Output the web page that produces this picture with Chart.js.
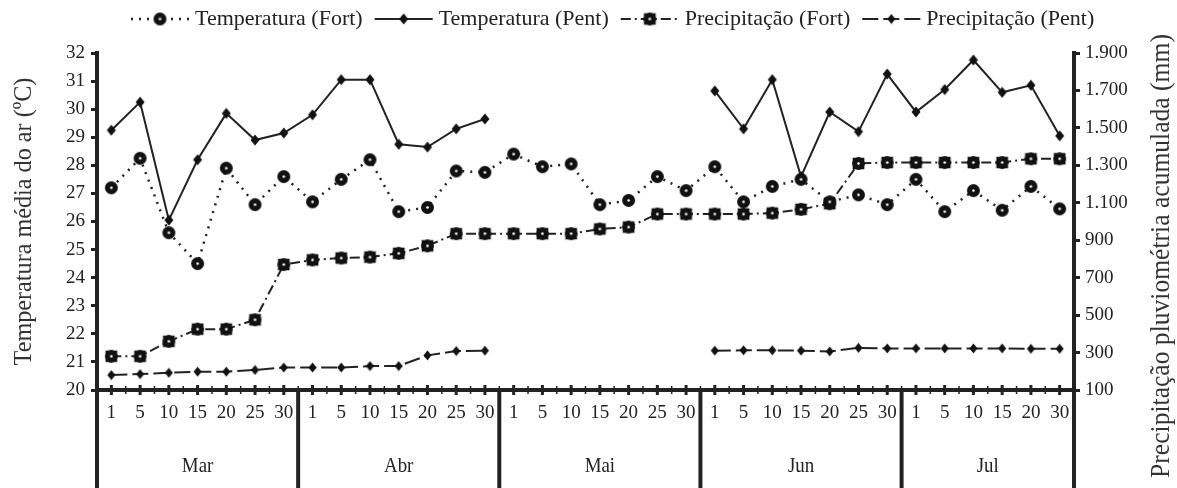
<!DOCTYPE html>
<html>
<head>
<meta charset="utf-8">
<script src="https://cdn.jsdelivr.net/npm/chart.js@4.4.1/dist/chart.umd.min.js"></script>
<style>
html, body { margin: 0; padding: 0; background: #fff; }
#wrap { width: 1177px; height: 488px; }
</style>
</head>
<body>
<div id="wrap"><canvas id="chart" width="1177" height="488"></canvas></div>
<script>
// categories
var months = ["Mar", "Abr", "Mai", "Jun", "Jul"];
var days = [
    [1, 5, 10, 15, 20, 25, 30],
    [1, 5, 10, 15, 20, 25, 30],
    [1, 5, 10, 15, 20, 25, 30],
    [1, 5, 10, 15, 20, 25, 30],
    [1, 5, 10, 15, 20, 30]
];

// series (ºC and mm), one value per day label
var tempFort = [27.2, 28.25, 25.6, 24.5, 27.9, 26.6, 27.6,
    26.7, 27.5, 28.2, 26.35, 26.5, 27.8, 27.75,
    28.4, 27.95, 28.05, 26.6, 26.75, 27.6, 27.1,
    27.95, 26.7, 27.25, 27.5, 26.7, 26.95, 26.6,
    27.5, 26.35, 27.1, 26.4, 27.25, 26.45];
var tempPent = [29.25, 30.25, 26.05, 28.2, 29.85, 28.9, 29.15,
    29.8, 31.05, 31.05, 28.75, 28.65, 29.3, 29.65,
    null, null, null, null, null, null, null,
    30.65, 29.3, 31.05, 27.6, 29.9, 29.2, 31.25,
    29.9, 30.7, 31.75, 30.6, 30.85, 29.05];
var precFort = [280, 280, 360, 425, 425, 475, 770,
    795, 805, 810, 830, 870, 935, 935,
    935, 935, 935, 960, 970, 1040, 1040,
    1040, 1040, 1045, 1065, 1095, 1310, 1315,
    1315, 1315, 1315, 1315, 1335, 1335];
var precPent = [180, 185, 192, 198, 198, 207, 220,
    220, 220, 228, 228, 285, 308, 310,
    null, null, null, null, null, null, null,
    310, 312, 312, 310, 306, 325, 322,
    322, 322, 322, 322, 320, 320];

// axis ticks
var tempMin = 20, tempMax = 32, tempStep = 1;
var precMin = 100, precMax = 1900, precStep = 200;

var dayLabels = [].concat(...days).map(String);
var serif = '"Liberation Serif", "Times New Roman", serif';
var ink = '#222';

function marker(kind, r, dot) {
    var c = document.createElement('canvas');
    var s = Math.ceil(r * 2 + 2);
    c.width = c.height = s;
    var g = c.getContext('2d'), m = s / 2;
    g.fillStyle = '#111';
    g.beginPath();
    if (kind === 'circle') {
        g.arc(m, m, r, 0, Math.PI * 2);
    } else if (kind === 'square') {
        g.rect(m - r * 0.9, m - r * 0.9, r * 1.8, r * 1.8);
        g.moveTo(m + r, m);
        g.arc(m, m, r, 0, Math.PI * 2);
    } else {
        g.moveTo(m, m - r * 1.1);
        g.lineTo(m + r * 0.9, m);
        g.lineTo(m, m + r * 1.1);
        g.lineTo(m - r * 0.9, m);
        g.closePath();
    }
    g.fill();
    if (dot) {
        g.fillStyle = '#fff';
        g.beginPath();
        g.arc(m, m, 1.3, 0, Math.PI * 2);
        g.fill();
    }
    return c;
}

var mkTempFort = marker('circle', 6.5, true);
var mkTempPent = marker('diamond', 5, false);
var mkPrecFort = marker('square', 6.5, true);
var mkPrecPent = marker('diamond', 4.5, false);

var series = [
    { label: "Temperatura (Fort)", data: tempFort, axis: 'y', dash: [2, 6], width: 2.5, mk: mkTempFort },
    { label: "Temperatura (Pent)", data: tempPent, axis: 'y', dash: [], width: 2, mk: mkTempPent },
    { label: "Precipitação (Fort)", data: precFort, axis: 'y1', dash: [10, 4, 2, 4], width: 2, mk: mkPrecFort },
    { label: "Precipitação (Pent)", data: precPent, axis: 'y1', dash: [16, 5], width: 2, mk: mkPrecPent }
];

function line(ctx, x1, y1, x2, y2) {
    ctx.beginPath();
    ctx.moveTo(x1, y1);
    ctx.lineTo(x2, y2);
    ctx.stroke();
}

// text a little narrower than the font, like the original figure
function narrowText(ctx, text, x, y, rot, sx) {
    ctx.save();
    ctx.translate(x, y);
    if (rot) ctx.rotate(rot);
    ctx.scale(sx, 1);
    ctx.fillText(text, 0, 0);
    ctx.restore();
}

const decor = {
    id: 'decor',
    afterDraw(chart) {
        const ctx = chart.ctx, x = chart.scales.x, area = chart.chartArea;
        const step = x.getPixelForValue(1) - x.getPixelForValue(0);
        ctx.save();
        ctx.strokeStyle = ink;

        // little ticks across the x axis
        dayLabels.forEach((d, i) => {
            const cx = x.getPixelForValue(i);
            ctx.lineWidth = 3;
            line(ctx, cx, area.bottom - 5, cx, area.bottom + 5);
            ctx.lineWidth = 1.5;
            line(ctx, cx + step / 2, area.bottom - 4, cx + step / 2, area.bottom + 4);
        });

        // month separators and names
        let idx = 0;
        const bounds = [x.getPixelForValue(0) - step / 2];
        days.forEach(d => {
            idx += d.length;
            bounds.push(x.getPixelForValue(idx - 1) + step / 2);
        });
        ctx.lineWidth = 4;
        bounds.forEach(b => line(ctx, b, area.bottom, b, chart.height));
        ctx.fillStyle = ink;
        ctx.font = '21px ' + serif;
        ctx.textAlign = 'center';
        ctx.textBaseline = 'middle';
        months.forEach((m, k) => narrowText(ctx, m, (bounds[k] + bounds[k + 1]) / 2, 466, 0, 0.9));

        // axis titles
        ctx.fillStyle = '#333';
        ctx.font = '26px ' + serif;
        narrowText(ctx, "Temperatura média do ar (ºC)", 24, (area.top + area.bottom) / 2, -Math.PI / 2, 0.93);
        ctx.font = '27.5px ' + serif;
        narrowText(ctx, "Precipitação pluviométria acumulada (mm)", 1162, 256, -Math.PI / 2, 0.93);

        // legend
        ctx.font = '22px ' + serif;
        ctx.textAlign = 'left';
        ctx.fillStyle = ink;
        let lx = 131;
        const ly = 19;
        series.forEach(s => {
            ctx.lineWidth = s.width;
            ctx.setLineDash(s.dash);
            line(ctx, lx, ly, lx + 58, ly);
            ctx.setLineDash([]);
            ctx.drawImage(s.mk, lx + 29 - s.mk.width / 2, ly - s.mk.height / 2);
            lx += 64;
            ctx.fillText(s.label, lx, ly);
            lx += ctx.measureText(s.label).width + 12;
        });
        ctx.restore();
    }
};

const data = {
    labels: dayLabels,
    datasets: series.map(s => ({
        label: s.label,
        data: s.data,
        yAxisID: s.axis,
        borderColor: ink,
        borderWidth: s.width,
        borderDash: s.dash,
        pointStyle: s.mk,
        pointRadius: 6,
        pointBackgroundColor: '#111',
        pointBorderColor: '#111',
        fill: false,
        tension: 0,
        spanGaps: false
    }))
};

const tickFont = { family: serif, size: 19 };

const config = {
    type: 'line',
    data: data,
    options: {
        responsive: false,
        animation: false,
        devicePixelRatio: 1,
        layout: { padding: { top: 53, left: 0, right: 0, bottom: 0 } },
        plugins: { legend: { display: false }, tooltip: { enabled: false } },
        scales: {
            x: {
                offset: true,
                grid: { display: false, drawTicks: false },
                border: { display: true, width: 4, color: ink },
                ticks: { font: tickFont, color: ink, maxRotation: 0, autoSkip: false, padding: 12 },
                afterFit: s => { s.height = 98; }
            },
            y: {
                position: 'left',
                min: tempMin,
                max: tempMax,
                grid: { drawOnChartArea: false, drawTicks: true, tickLength: 6, color: ink, lineWidth: 3 },
                border: { display: true, width: 4, color: ink },
                ticks: { stepSize: tempStep, font: tickFont, color: ink, padding: 6 },
                afterFit: s => { s.width = 97; }
            },
            y1: {
                position: 'right',
                min: precMin,
                max: precMax,
                grid: { drawOnChartArea: false, drawTicks: true, tickLength: 6, color: ink, lineWidth: 3 },
                border: { display: true, width: 4, color: ink },
                ticks: {
                    stepSize: precStep, font: tickFont, color: ink, padding: 5,
                    callback: v => String(v).replace(/\B(?=(\d{3})+(?!\d))/g, '.')
                },
                afterFit: s => { s.width = 103; }
            }
        }
    },
    plugins: [decor]
};

const myChart = new Chart(document.getElementById('chart'), config);
</script>
</body>
</html>
